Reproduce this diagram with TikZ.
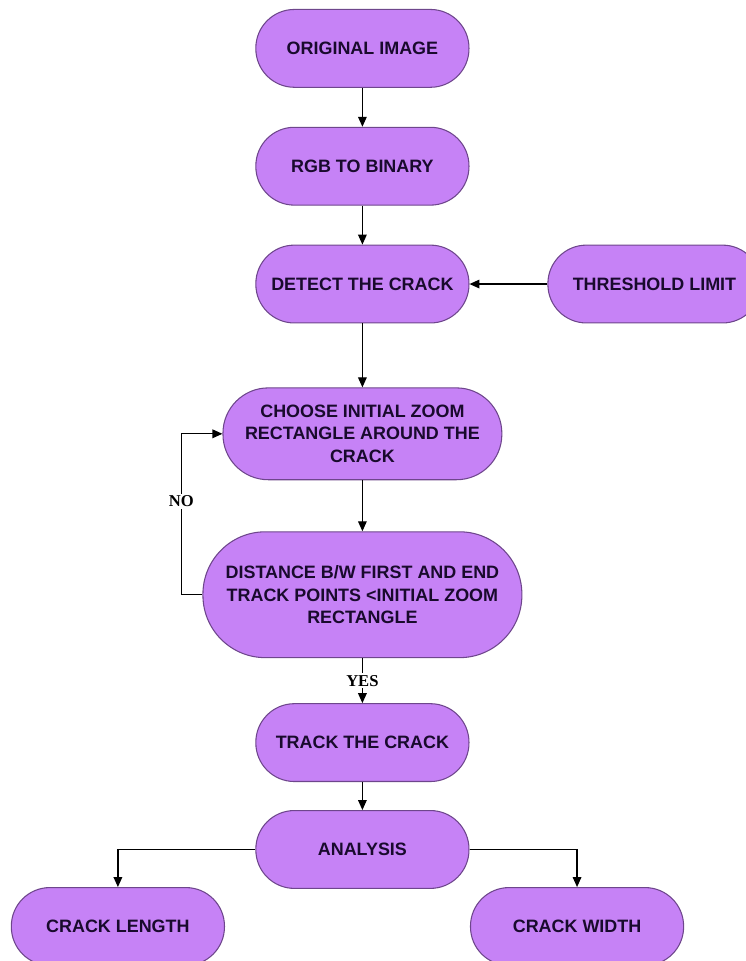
\documentclass[tikz,border=0pt]{standalone}
\usepackage{fontspec}
\setmainfont{Liberation Sans}
\newfontfamily\labelserif{Liberation Serif}
\usetikzlibrary{arrows.meta, positioning}
\definecolor{crackfill}{RGB}{198,130,246}
\definecolor{crackline}{RGB}{110,70,140}
\definecolor{cracktext}{RGB}{25,10,45}

\begin{document}
\begin{tikzpicture}[
  stage/.style={rectangle, draw=crackline, fill=crackfill, line width=0.8pt, minimum width=5.64cm, minimum height=2.06cm, rounded corners=1.02cm, align=center, inner sep=0pt, text=cracktext, font=\fontsize{13.5}{17}\selectfont\bfseries},
  arrow/.style={-{Triangle[length=7.5pt,width=6.5pt]}, line width=0.9pt},
  answer/.style={font=\labelserif\fontsize{12.5}{14}\selectfont\bfseries, fill=white, inner sep=1.5pt}
]
\useasboundingbox (0,0) rectangle (19.74,-25.43);

\node[stage] (orig) at (9.59,-1.28) {ORIGINAL IMAGE};
\node[stage, below=1.03cm of orig] (rgb) {RGB TO BINARY};
\node[stage, below=1.03cm of rgb] (detect) {DETECT THE CRACK};
\node[stage, right=2.06cm of detect] (thresh) {THRESHOLD LIMIT};
\node[stage, below=1.69cm of detect, minimum width=7.38cm, minimum height=2.43cm, rounded corners=1.2cm] (zoom) {CHOOSE INITIAL ZOOM\\RECTANGLE AROUND THE\\CRACK};
\node[stage, below=1.35cm of zoom, minimum width=8.44cm, minimum height=3.33cm, rounded corners=1.65cm] (dist) {DISTANCE B/W FIRST AND END\\TRACK POINTS <INITIAL ZOOM\\RECTANGLE};
\node[stage, below=1.19cm of dist] (track) {TRACK THE CRACK};
\node[stage, below=0.74cm of track] (analysis) {ANALYSIS};
\node[stage, anchor=north] (length) at ([xshift=-6.47cm, yshift=0.05cm]analysis.south) {CRACK LENGTH};
\node[stage, anchor=north] (width) at ([xshift=5.68cm, yshift=0.05cm]analysis.south) {CRACK WIDTH};

\draw[arrow] (orig) -- (rgb);
\draw[arrow] (rgb) -- (detect);
\draw[arrow] (thresh) -- (detect);
\draw[arrow] (detect) -- (zoom);
\draw[arrow] (zoom) -- (dist);
\draw[arrow] (dist.west) -- ++(-0.56,0) |- node[answer, pos=0.29] {NO} (zoom.west);
\draw[arrow] (dist) -- node[answer] {YES} (track);
\draw[arrow] (track) -- (analysis);
\draw[arrow] (analysis.west) -| (length.north);
\draw[arrow] (analysis.east) -| (width.north);

\end{tikzpicture}
\end{document}
